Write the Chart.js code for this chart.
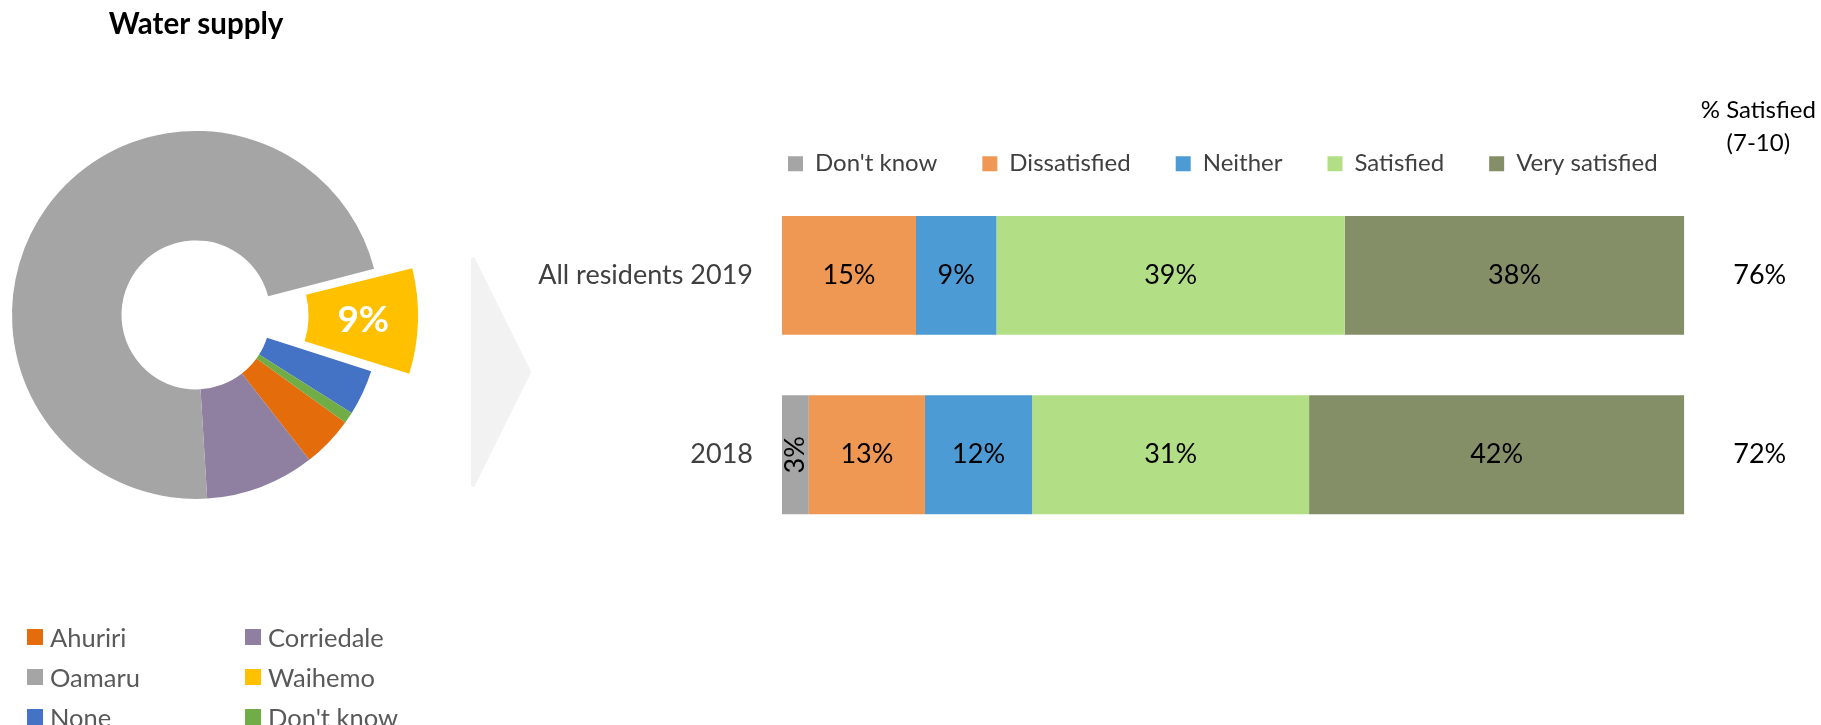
<!DOCTYPE html>
<html>
<head>
<meta charset="utf-8">
<title>Water supply</title>
<script src="https://cdn.jsdelivr.net/npm/chart.js@4.4.1/dist/chart.umd.min.js"></script>
<style>
  html, body { margin: 0; padding: 0; background: #fff; }
  body { width: 1821px; height: 725px; position: relative; overflow: hidden; font-family: Lato, sans-serif; }
  canvas { position: absolute; top: 0; }
  #zoneChart { left: 0; }
  #ratingChart { left: 535px; }
  #arrow { position: absolute; left: 0; top: 0; }
  #zoneLegend {
    position: absolute; left: 27px; top: 617px;
    display: grid; grid-template-columns: 218px 218px; grid-auto-rows: 40px;
  }
  .legend-item { display: flex; align-items: center; font-size: 25.5px; color: #595959; white-space: nowrap; }
  .legend-item .swatch { width: 16px; height: 16px; margin-right: 7px; flex: none; }
</style>
</head>
<body>

<canvas id="zoneChart" width="460" height="590"></canvas>
<svg id="arrow" width="540" height="725">
  <path d="M473,259 L529,372 L473,485 Z" fill="#f2f2f2" stroke="#f2f2f2" stroke-width="4" stroke-linejoin="round"/>
</svg>
<canvas id="ratingChart" width="1286" height="725"></canvas>
<div id="zoneLegend"></div>

<script>
// ---- ward share (donut) ----
const zoneLabels = ["Ahuriri", "Corriedale", "Oamaru", "Waihemo", "None", "Don't know"];
const zoneValues = [4.5, 9.6, 72, 9, 4, 1];
const zoneColors = ["#E46C0A", "#8F7FA1", "#A5A5A5", "#FFC000", "#4472C4", "#70AD47"];
const zoneHighlight = "Waihemo";

// ---- satisfaction ratings (stacked bars) ----
const ratingRows = ["All residents 2019", "2018"];
const ratingLabels = ["Don't know", "Dissatisfied", "Neither", "Satisfied", "Very satisfied"];
const dontKnow = [0, 3];
const dissatisfied = [15, 13];
const neither = [9, 12];
const satisfied = [39, 31];
const verySatisfied = [38, 42];
const ratingColors = ["#A5A5A5", "#EE9853", "#4C9BD4", "#B2DF86", "#848F67"];
const satisfiedPct = [76, 72];

const FONT = "Lato";

document.addEventListener("DOMContentLoaded", () => {

    // =========================
    // DONUT
    // =========================

    // white % label on the pulled-out slice
    const sliceLabel = {
        id: "sliceLabel",
        afterDatasetsDraw(chart) {
            const ctx = chart.ctx;
            const values = chart.data.datasets[0].data;
            const total = values.reduce((a, b) => a + b, 0);
            const i = chart.data.labels.indexOf(zoneHighlight);
            const arc = chart.getDatasetMeta(0).data[i];
            const p = arc.getProps(["x", "y", "startAngle", "endAngle", "innerRadius", "outerRadius", "circumference"], true);
            // arcs with an offset get shifted out by offset/4 and grown by offset/4 * (1 - sin)
            const push = arc.options.offset / 4 * (2 - Math.sin(Math.min(Math.PI, p.circumference)));
            const mid = (p.startAngle + p.endAngle) / 2;
            const r = (p.innerRadius + p.outerRadius) / 2 + push;

            ctx.save();
            ctx.font = `bold 37px ${FONT}`;
            ctx.fillStyle = "#fff";
            ctx.textAlign = "center";
            ctx.textBaseline = "middle";
            ctx.fillText(Math.round(values[i] / total * 100) + "%", p.x + Math.cos(mid) * r, p.y + Math.sin(mid) * r);
            ctx.restore();
        }
    };

    new Chart(document.getElementById("zoneChart"), {
        type: "doughnut",
        data: {
            labels: zoneLabels,
            datasets: [{
                data: zoneValues,
                backgroundColor: zoneColors,
                borderWidth: 0,
                offset: zoneLabels.map(l => l === zoneHighlight ? 104 : 0)
            }]
        },
        options: {
            responsive: false,
            animation: false,
            rotation: 125.8,
            radius: 184,
            cutout: "40.5%",
            layout: { padding: { top: 0, right: 68, bottom: 11.6, left: 0 } },
            plugins: {
                legend: { display: false },
                tooltip: { enabled: false },
                title: {
                    display: true,
                    text: "Water supply",
                    color: "#000",
                    font: { family: FONT, size: 29.5, weight: "bold" },
                    padding: { top: 7, bottom: 9 }
                }
            }
        },
        plugins: [sliceLabel]
    });

    // html legend, two columns
    const legendBox = document.getElementById("zoneLegend");
    zoneLabels.forEach((label, i) => {
        const item = document.createElement("div");
        item.className = "legend-item";
        const sw = document.createElement("span");
        sw.className = "swatch";
        sw.style.background = zoneColors[i];
        item.appendChild(sw);
        item.appendChild(document.createTextNode(label));
        legendBox.appendChild(item);
    });

    // =========================
    // STACKED BARS
    // =========================
    const series = [dontKnow, dissatisfied, neither, satisfied, verySatisfied];
    const rowTotals = ratingRows.map((_, r) => series.reduce((s, d) => s + d[r], 0));

    const segmentLabels = {
        id: "segmentLabels",
        afterDatasetsDraw(chart) {
            const ctx = chart.ctx;
            ctx.save();
            ctx.font = `27px ${FONT}`;
            ctx.fillStyle = "#000";
            ctx.textAlign = "center";
            ctx.textBaseline = "middle";
            chart.data.datasets.forEach((ds, di) => {
                chart.getDatasetMeta(di).data.forEach((bar, i) => {
                    const v = ds.data[i];
                    if (!v) return;
                    const { x, y, base } = bar.getProps(["x", "y", "base"], true);
                    const text = v + "%";
                    const cx = (x + base) / 2;
                    if (ctx.measureText(text).width + 6 > Math.abs(x - base)) {
                        ctx.save();
                        ctx.translate(cx, y);
                        ctx.rotate(-Math.PI / 2);
                        ctx.fillText(text, 0, 0);
                        ctx.restore();
                    } else {
                        ctx.fillText(text, cx, y);
                    }
                });
            });
            ctx.restore();
        }
    };

    // row names left of the bars (drawn here so they can run past the axis box)
    const rowLabels = {
        id: "rowLabels",
        afterDraw(chart) {
            const { ctx, chartArea } = chart;
            const y = chart.scales.y;
            ctx.save();
            ctx.fillStyle = "#404040";
            ctx.textAlign = "right";
            ctx.textBaseline = "middle";
            ctx.font = `27px ${FONT}`;
            chart.data.labels.forEach((label, i) => {
                ctx.fillText(label, chartArea.left - 29, y.getPixelForValue(i));
            });
            ctx.restore();
        }
    };

    // header over the right-hand "% satisfied" axis
    const satisfiedHeader = {
        id: "satisfiedHeader",
        afterDraw(chart) {
            const { ctx, chartArea } = chart;
            const colX = chart.scales.y2.left + 74;
            ctx.save();
            ctx.fillStyle = "#000";
            ctx.textAlign = "center";
            ctx.textBaseline = "middle";
            ctx.font = `24px ${FONT}`;
            ctx.fillText("% Satisfied", colX, chartArea.top - 75);
            ctx.fillText("(7-10)", colX, chartArea.top - 42);
            ctx.restore();
        }
    };

    new Chart(document.getElementById("ratingChart"), {
        type: "bar",
        data: {
            labels: ratingRows,
            datasets: series.map((d, i) => ({
                label: ratingLabels[i],
                data: d,
                backgroundColor: ratingColors[i],
                borderWidth: 0,
                barPercentage: 1,
                categoryPercentage: 0.663
            }))
        },
        options: {
            indexAxis: "y",
            responsive: false,
            animation: false,
            layout: { padding: { top: 106.75, right: 0, bottom: 180.6, left: 208 } },
            scales: {
                x: {
                    stacked: true,
                    min: 0,
                    max: Math.max(...rowTotals),
                    display: false
                },
                y: {
                    stacked: true,
                    grid: { display: false, drawTicks: false },
                    border: { display: false },
                    ticks: { display: false },
                    afterFit(scale) {
                        scale.width = 39;
                    }
                },
                y2: {
                    type: "category",
                    position: "right",
                    labels: satisfiedPct.map(v => v + "%"),
                    offset: true,
                    grid: { display: false, drawTicks: false },
                    border: { display: false },
                    ticks: {
                        padding: 49,
                        crossAlign: "near",
                        color: "#000",
                        font: { family: FONT, size: 27 }
                    },
                    afterFit(scale) {
                        scale.width = 136.7;
                    }
                }
            },
            plugins: {
                tooltip: { enabled: false },
                legend: {
                    position: "top",
                    align: "start",
                    labels: {
                        boxWidth: 15,
                        boxHeight: 15,
                        padding: 45,
                        color: "#404040",
                        font: { family: FONT, size: 24 }
                    }
                }
            }
        },
        plugins: [segmentLabels, rowLabels, satisfiedHeader]
    });

});
</script>
</body>
</html>
